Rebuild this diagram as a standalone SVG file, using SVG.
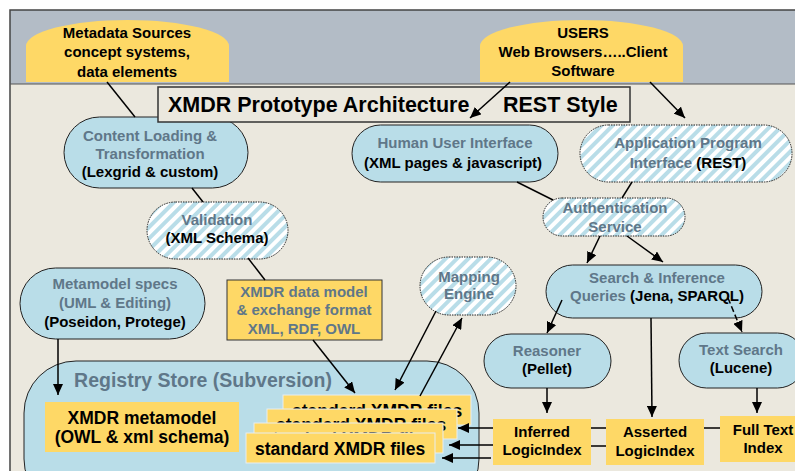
<svg xmlns="http://www.w3.org/2000/svg" width="795" height="471" viewBox="0 0 795 471">
<defs>
<pattern id="hatch" patternUnits="userSpaceOnUse" width="8" height="8" patternTransform="rotate(45)">
<rect width="8" height="8" fill="#ffffff"/>
<rect width="4" height="8" fill="#b9dde8"/>
</pattern>
<marker id="ah" markerUnits="userSpaceOnUse" markerWidth="11" markerHeight="10" refX="11" refY="5" orient="auto">
<path d="M0,0 L11,5 L0,10 z" fill="#000"/>
</marker>
<style>
text{font-family:"Liberation Sans",Arial,sans-serif;font-weight:bold;font-size:15px;text-anchor:middle;fill:#000}
.g{fill:#5f7789}
.pill{fill:#b9dde8;stroke:#222;stroke-width:1}
.hat{fill:url(#hatch);stroke:#222;stroke-width:1;stroke-dasharray:1.5,1}
.yel{fill:#fed866}
.file{fill:#fed866;stroke:#e8eef0;stroke-width:1}
.c{stroke:#000;stroke-width:1.5;fill:none}
.a{marker-end:url(#ah)}
</style>
</defs>
<rect x="0" y="0" width="795" height="471" fill="#ffffff"/>
<rect x="10" y="10" width="785" height="74" fill="#b3bcc6"/>
<rect x="10" y="84" width="785" height="387" fill="#ebe8de"/>
<path d="M10,471 V10 H795" fill="none" stroke="#444" stroke-width="1.5"/>
<line x1="10" y1="84" x2="795" y2="84" stroke="#555" stroke-width="1"/>

<g id="metadata-sources">
<path class="yel" d="M26,82 V46 A101.5,26 0 0 1 229,46 V82 Z"/>
<text x="127" y="38">Metadata Sources</text>
<text x="127" y="57">concept systems,</text>
<text x="127" y="77">data elements</text>
</g>
<g id="users">
<path class="yel" d="M480,82 V46 A101.5,26 0 0 1 683,46 V82 Z"/>
<text x="583" y="38">USERS</text>
<text x="583" y="57">Web Browsers…..Client</text>
<text x="583" y="76">Software</text>
</g>
<g id="content-loading">
<rect class="pill" x="64" y="117" width="184" height="71" rx="35.5"/>
<text class="g" x="150" y="141">Content Loading &amp;</text>
<text class="g" x="150" y="159">Transformation</text>
<text x="150" y="177">(Lexgrid &amp; custom)</text>
</g>
<g id="title">
<rect x="158" y="87" width="472" height="35" fill="#ebe8de" stroke="#333" stroke-width="1.5"/>
<text x="168" y="112" style="font-size:21.5px;text-anchor:start">XMDR Prototype Architecture</text>
<text x="503" y="112" style="font-size:21.5px;text-anchor:start">REST Style</text>
</g>
<g id="validation">
<rect class="hat" x="147" y="202" width="141" height="57" rx="28.5"/>
<text class="g" x="217" y="225">Validation</text>
<text x="217" y="243">(XML Schema)</text>
</g>
<g id="metamodel-specs">
<rect class="pill" x="20" y="268" width="185" height="71" rx="35.5"/>
<text class="g" x="115" y="289">Metamodel specs</text>
<text class="g" x="115" y="308">(UML &amp; Editing)</text>
<text x="115" y="327">(Poseidon, Protege)</text>
</g>
<g id="xmdr-data-model">
<rect class="yel" x="227" y="280" width="155" height="60" stroke="#333" stroke-width="1"/>
<text class="g" x="304" y="297">XMDR data model</text>
<text class="g" x="304" y="315">&amp; exchange format</text>
<text class="g" x="304" y="334">XML, RDF, OWL</text>
</g>
<g id="human-user-interface">
<rect class="pill" x="352" y="125" width="206" height="57" rx="28.5"/>
<text class="g" x="455" y="148">Human User Interface</text>
<text x="453" y="168">(XML pages &amp; javascript)</text>
</g>
<g id="api">
<rect class="hat" x="580" y="125" width="212" height="57" rx="28.5"/>
<text class="g" x="688" y="148">Application Program</text>
<text x="688" y="168"><tspan class="g">Interface </tspan>(REST)</text>
</g>
<g id="authentication">
<rect class="hat" x="543" y="198" width="142" height="38" rx="19"/>
<text class="g" x="615" y="213">Authentication</text>
<text class="g" x="615" y="232">Service</text>
</g>
<g id="mapping-engine">
<rect class="hat" x="420" y="257" width="96" height="58" rx="29"/>
<text class="g" x="469" y="282">Mapping</text>
<text class="g" x="469" y="299">Engine</text>
</g>
<g id="search-inference">
<rect class="pill" x="546" y="265" width="216" height="53" rx="26.5"/>
<text class="g" x="657" y="283">Search &amp; Inference</text>
<text x="657" y="301"><tspan class="g">Queries </tspan>(Jena, SPARQL)</text>
</g>
<g id="reasoner">
<rect class="pill" x="484" y="334" width="127" height="54" rx="27"/>
<text class="g" x="547" y="356">Reasoner</text>
<text x="547" y="374">(Pellet)</text>
</g>
<g id="text-search">
<rect class="pill" x="679" y="333" width="126" height="55" rx="27.5"/>
<text class="g" x="741" y="355">Text Search</text>
<text x="741" y="373">(Lucene)</text>
</g>
<g id="registry-store">
<rect class="pill" x="24" y="361" width="455" height="150" rx="52" ry="52"/>
<text class="g" x="203" y="387" style="font-size:19.5px">Registry Store (Subversion)</text>
</g>
<g id="xmdr-metamodel">
<rect class="yel" x="45" y="402" width="194" height="50"/>
<text x="142" y="424" style="font-size:17.5px">XMDR metamodel</text>
<text x="142" y="443" style="font-size:17.5px">(OWL &amp; xml schema)</text>
</g>
<g id="standard-files">
<rect class="file" x="283" y="395" width="188" height="30"/>
<text x="292" y="417" style="font-size:17.5px;text-anchor:start">standard XMDR files</text>
<rect class="file" x="267" y="409" width="190" height="30"/>
<text x="276" y="431" style="font-size:17.5px;text-anchor:start">standard XMDR files</text>
<rect class="file" x="254" y="423" width="189" height="30"/>
<text x="263" y="445" style="font-size:17.5px;text-anchor:start">standard XMDR files</text>
<rect class="file" x="246" y="433" width="189" height="30"/>
<text x="255" y="455" style="font-size:17.5px;text-anchor:start">standard XMDR files</text>
</g>
<g id="inferred-logicindex">
<rect class="yel" x="493" y="419" width="98" height="46"/>
<text x="542" y="437">Inferred</text>
<text x="542" y="455">LogicIndex</text>
</g>
<g id="asserted-logicindex">
<rect class="yel" x="606" y="419" width="98" height="46"/>
<text x="655" y="437">Asserted</text>
<text x="655" y="456">LogicIndex</text>
</g>
<g id="full-text-index">
<rect class="yel" x="720" y="416" width="88" height="46"/>
<text x="763" y="435">Full Text</text>
<text x="763" y="453">Index</text>
</g>

<g id="connectors">
<line class="c" x1="107" y1="82" x2="135" y2="117"/>
<line class="c a" x1="510" y1="82" x2="470" y2="118"/>
<line class="c a" x1="650" y1="82" x2="685" y2="118"/>
<line class="c" x1="192" y1="188" x2="203" y2="202"/>
<line class="c" x1="248" y1="258" x2="265" y2="280"/>
<line class="c a" x1="313" y1="340" x2="355" y2="393"/>
<line class="c a" x1="58" y1="339" x2="58" y2="395"/>
<line class="c a" x1="436" y1="311" x2="395" y2="390"/>
<line class="c a" x1="420" y1="396" x2="462" y2="318"/>
<line class="c" x1="517" y1="182" x2="553" y2="200"/>
<line class="c" x1="632" y1="182" x2="622" y2="198"/>
<line class="c a" x1="600" y1="236" x2="587" y2="263"/>
<line class="c a" x1="627" y1="236" x2="663" y2="262"/>
<line class="c a" x1="562" y1="300" x2="547" y2="333"/>
<line class="c a" x1="728" y1="298" x2="742" y2="332" stroke-dasharray="6,3"/>
<line class="c a" x1="651" y1="318" x2="652" y2="417"/>
<line class="c a" x1="547" y1="388" x2="547" y2="413"/>
<line class="c a" x1="757" y1="388" x2="757" y2="413"/>
<line class="c" x1="720" y1="428" x2="704" y2="428"/>
<line class="c" x1="606" y1="428" x2="591" y2="428"/>
<line class="c" x1="606" y1="446" x2="591" y2="446"/>
<line class="c a" x1="493" y1="428" x2="458" y2="428"/>
<line class="c a" x1="493" y1="445" x2="449" y2="445"/>
<line class="c a" x1="491" y1="458" x2="442" y2="458"/>
</g>
</svg>
